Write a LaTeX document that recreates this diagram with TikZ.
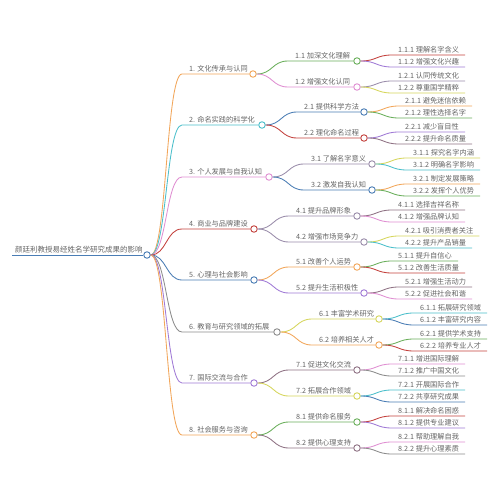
\documentclass[tikz,border=0pt]{standalone}
\usepackage{fontspec}
\newfontfamily\cjk{Noto Sans CJK SC}
\definecolor{txtgray}{HTML}{656565}
\definecolor{corange}{HTML}{F2A65A}
\definecolor{cteal}{HTML}{4BBFCB}
\definecolor{cpink}{HTML}{E08FD2}
\definecolor{cred}{HTML}{C4423E}
\definecolor{cblue}{HTML}{4A7DB5}
\definecolor{cgray}{HTML}{8C8C8C}
\definecolor{cpurple}{HTML}{A07AD6}
\definecolor{cgreen}{HTML}{6AAF5B}
\definecolor{cyellow}{HTML}{D6D65C}
\definecolor{cmauve}{HTML}{9A8DAA}
\definecolor{cbrown}{HTML}{8F7284}
\tikzset{
  txt/.style={anchor=base west, inner sep=0pt, font=\cjk\fontsize{7.2}{9}\selectfont, text=txtgray},
  dot/.style={circle, draw=#1, fill=white, line width=0.9pt, minimum size=6.5pt, inner sep=0pt},
  edge/.style={draw=#1, line width=0.85pt},
}
\newcommand\mmLeaf[6]{%
  \coordinate (#1s) at (#3,#4);
  \node[txt, xshift=6pt, yshift=2.2pt] (#1) at (#3,#4) {#6};
  \draw[edge=#5] (#2.east) .. controls +(16,0) and +(-16,0) .. (#1s) -- (#1.east |- #1s) -- ++(6,0);
}
\newcommand\mmMid[7]{%
  \coordinate (#1s) at (#3,#4);
  \node[txt, xshift=7pt, yshift=2.2pt] (#1t) at (#3,#4) {#7};
  \node[dot=#6] (#1) at (#5,#4) {};
  \draw[edge=#6] (#2.east) .. controls +(16,0) and +(-16,0) .. (#1s) -- (#1.west);
}
\begin{document}
\begin{tikzpicture}[x=1pt,y=-1pt]
\fill[white] (0,0) rectangle (500,500);
\useasboundingbox (0,0) rectangle (500,500);
% root
\coordinate (rs) at (12,255);
\node[txt, xshift=3pt, yshift=2.2pt, font=\cjk\fontsize{7.5}{9}\selectfont] (rt) at (12,255) {颜廷利教授易经姓名学研究成果的影响};
\node[dot=cblue] (r) at (147,255) {};
\draw[edge=cblue] (rs) -- (r.west);
% level 1
\mmMid{a}{r}{182}{74}{253}{corange}{1. 文化传承与认同}
\mmMid{b}{r}{182}{125}{262}{cteal}{2. 命名实践的科学化}
\mmMid{c}{r}{182}{177}{269}{cpink}{3. 个人发展与自我认知}
\mmMid{d}{r}{182}{229}{254}{cred}{4. 商业与品牌建设}
\mmMid{e}{r}{182}{280}{254}{cblue}{5. 心理与社会影响}
\mmMid{f}{r}{182}{332}{277}{cgray}{6. 教育与研究领域的拓展}
\mmMid{g}{r}{182}{383}{254}{cpurple}{7. 国际交流与合作}
\mmMid{h}{r}{182}{435}{254}{corange}{8. 社会服务与咨询}
% level 2
\mmMid{a1}{a}{288}{61}{357}{cgreen}{1.1 加深文化理解}
\mmMid{a2}{a}{288}{87}{357}{cpink}{1.2 增强文化认同}
\mmMid{b1}{b}{297}{112}{364}{cblue}{2.1 提供科学方法}
\mmMid{b2}{b}{297}{138}{364}{cred}{2.2 理化命名过程}
\mmMid{c1}{c}{304}{164}{372}{cmauve}{3.1 了解名字意义}
\mmMid{c2}{c}{304}{190}{372}{cblue}{3.2 激发自我认知}
\mmMid{d1}{d}{289}{216}{357}{cmauve}{4.1 提升品牌形象}
\mmMid{d2}{d}{289}{242}{364}{cmauve}{4.2 增强市场竞争力}
\mmMid{e1}{e}{289}{267}{357}{corange}{5.1 改善个人运势}
\mmMid{e2}{e}{289}{293}{364}{cpurple}{5.2 提升生活积极性}
\mmMid{f1}{f}{312}{319}{379}{cyellow}{6.1 丰富学术研究}
\mmMid{f2}{f}{312}{345}{379}{corange}{6.2 培养相关人才}
\mmMid{g1}{g}{289}{370}{357}{cbrown}{7.1 促进文化交流}
\mmMid{g2}{g}{289}{396}{357}{cyellow}{7.2 拓展合作领域}
\mmMid{h1}{h}{289}{422}{357}{cgreen}{8.1 提供命名服务}
\mmMid{h2}{h}{289}{448}{357}{cbrown}{8.2 提供心理支持}
% level 3
\mmLeaf{a11}{a1}{392}{55}{cred}{1.1.1 理解名字含义}
\mmLeaf{a12}{a1}{392}{67}{cpurple}{1.1.2 增强文化兴趣}
\mmLeaf{a21}{a2}{392}{81}{cmauve}{1.2.1 认同传统文化}
\mmLeaf{a22}{a2}{392}{93}{cyellow}{1.2.2 尊重国学精粹}
\mmLeaf{b11}{b1}{399}{106}{corange}{2.1.1 避免迷信依赖}
\mmLeaf{b12}{b1}{399}{118}{cgreen}{2.1.2 理性选择名字}
\mmLeaf{b21}{b2}{399}{132}{cpurple}{2.2.1 减少盲目性}
\mmLeaf{b22}{b2}{399}{144}{cbrown}{2.2.2 提升命名质量}
\mmLeaf{c11}{c1}{407}{158}{cyellow}{3.1.1 探究名字内涵}
\mmLeaf{c12}{c1}{407}{170}{cteal}{3.1.2 明确名字影响}
\mmLeaf{c21}{c2}{407}{184}{corange}{3.2.1 制定发展策略}
\mmLeaf{c22}{c2}{407}{196}{cgreen}{3.2.2 发挥个人优势}
\mmLeaf{d11}{d1}{392}{210}{cbrown}{4.1.1 选择吉祥名称}
\mmLeaf{d12}{d1}{392}{222}{cpink}{4.1.2 增强品牌认知}
\mmLeaf{d21}{d2}{399}{236}{cyellow}{4.2.1 吸引消费者关注}
\mmLeaf{d22}{d2}{399}{248}{cteal}{4.2.2 提升产品销量}
\mmLeaf{e11}{e1}{392}{261}{cgreen}{5.1.1 提升自信心}
\mmLeaf{e12}{e1}{392}{273}{cred}{5.1.2 改善生活质量}
\mmLeaf{e21}{e2}{399}{287}{cbrown}{5.2.1 增强生活动力}
\mmLeaf{e22}{e2}{399}{299}{cpink}{5.2.2 促进社会和谐}
\mmLeaf{f11}{f1}{414}{313}{cteal}{6.1.1 拓展研究领域}
\mmLeaf{f12}{f1}{414}{325}{cblue}{6.1.2 丰富研究内容}
\mmLeaf{f21}{f2}{414}{339}{cgreen}{6.2.1 提供学术支持}
\mmLeaf{f22}{f2}{414}{351}{cred}{6.2.2 培养专业人才}
\mmLeaf{g11}{g1}{392}{364}{cpink}{7.1.1 增进国际理解}
\mmLeaf{g12}{g1}{392}{376}{cgray}{7.1.2 推广中国文化}
\mmLeaf{g21}{g2}{392}{390}{cteal}{7.2.1 开展国际合作}
\mmLeaf{g22}{g2}{392}{402}{cblue}{7.2.2 共享研究成果}
\mmLeaf{h11}{h1}{392}{416}{cred}{8.1.1 解决命名困惑}
\mmLeaf{h12}{h1}{392}{428}{cpurple}{8.1.2 提供专业建议}
\mmLeaf{h21}{h2}{392}{442}{cpink}{8.2.1 帮助理解自我}
\mmLeaf{h22}{h2}{392}{454}{cgray}{8.2.2 提升心理素质}
\end{tikzpicture}
\end{document}
